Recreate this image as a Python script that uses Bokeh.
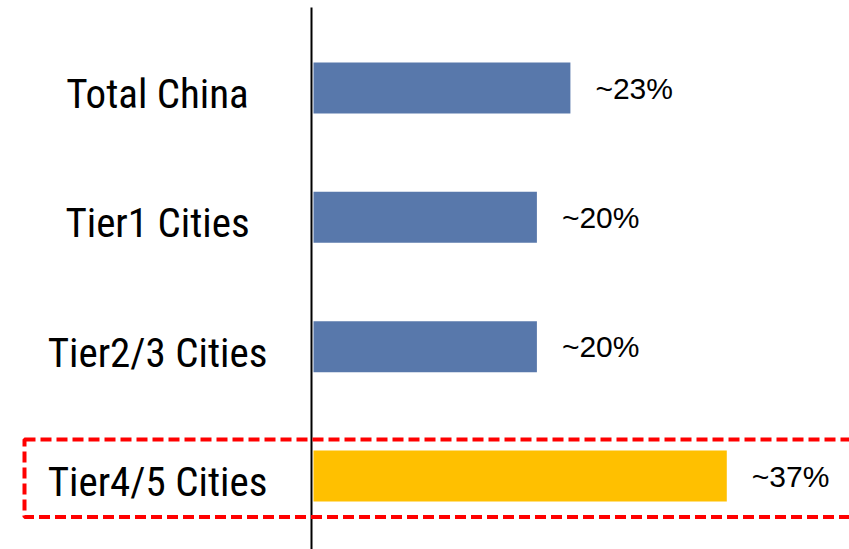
from bokeh.plotting import figure
from bokeh.models import ColumnDataSource, Range1d, BoxAnnotation
from bokeh.core.properties import value
from bokeh.embed import file_html
from bokeh.resources import INLINE

# ---- data ----
categories = ["Total China", "Tier1 Cities", "Tier2/3 Cities", "Tier4/5 Cities"]
shares = [23, 20, 20, 37]
share_labels = ["~23%", "~20%", "~20%", "~37%"]
highlight = "Tier4/5 Cities"

# ---- styling ----
BLUE = "#5878AB"
GOLD = "#FFC000"
n = len(categories)
ypos = [n - i - 0.5 for i in range(n)]
colors = [GOLD if c == highlight else BLUE for c in categories]

src = ColumnDataSource(dict(cat=categories, share=shares, lab=share_labels,
                            y=ypos, color=colors, zero=[0] * n))

PX_PER_UNIT = 11.17
ZERO_PX = 313  # frame x of 0%
PX_PER_ROW = 129.33
W, H = 849, 549
y0 = -0.068
y1 = 4.1766
p = figure(width=W, height=H, output_backend="svg", toolbar_location=None,
           x_range=Range1d(-ZERO_PX / PX_PER_UNIT, (W - ZERO_PX) / PX_PER_UNIT),
           y_range=Range1d(y0, y1),
           min_border=0, min_border_left=0, min_border_right=0,
           min_border_top=0, min_border_bottom=0)
p.axis.visible = False
p.xgrid.visible = False
p.ygrid.visible = False
p.outline_line_color = None
p.background_fill_color = "white"
p.border_fill_color = "white"

p.hbar(y="y", left=0, right="share", height=51 / PX_PER_ROW, color="color",
       line_color=None, source=src)

# vertical axis line
p.segment(x0=[-2 / PX_PER_UNIT], x1=[-2 / PX_PER_UNIT],
          y0=[y0 - 1], y1=[y1 - 7 / PX_PER_ROW],
          line_color="black", line_width=2)

# category labels
p.text(x="zero", y="y", text="cat", source=src, x_offset=-156, y_offset=6,
       text_align="center", text_baseline="middle",
       text_font=value("'Roboto Condensed', Roboto"),
       text_font_size="41px", text_color="black")

# value labels
p.text(x="share", y="y", text="lab", source=src, x_offset=25, y_offset=0,
       text_align="left", text_baseline="middle",
       text_font=value("Liberation Sans"), text_font_size="30px",
       text_color="black")

# highlight box around the last category
hi_y = ypos[categories.index(highlight)]
p.add_layout(BoxAnnotation(left=-289 / PX_PER_UNIT, right=100,
                           bottom=hi_y - 41 / PX_PER_ROW, top=hi_y + 36.5 / PX_PER_ROW,
                           fill_alpha=0, line_color="#FF0000", line_alpha=1,
                           line_width=4, line_dash="11 5"))

open("out.html", "w").write(file_html(p, INLINE))
